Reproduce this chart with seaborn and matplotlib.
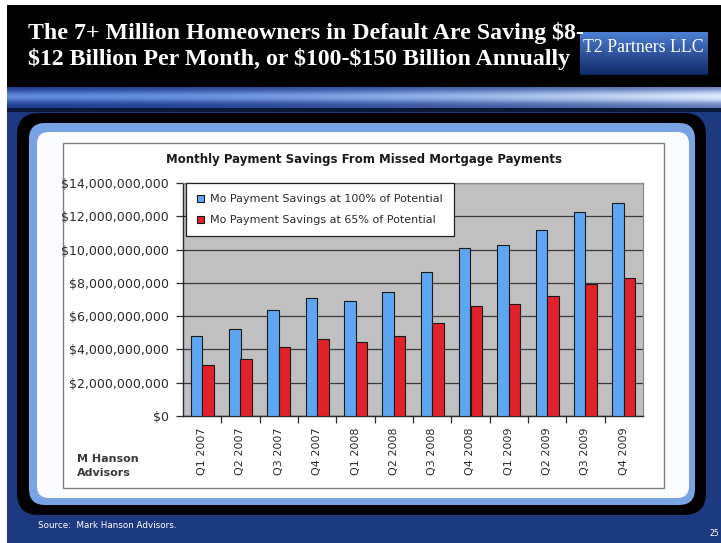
import numpy as np
import pandas as pd
import matplotlib
matplotlib.use("Agg")
import matplotlib.pyplot as plt
from matplotlib.patches import FancyBboxPatch, Rectangle
from matplotlib.ticker import FuncFormatter, FixedLocator
import seaborn as sns

# ---- data -----------------------------------------------------------------
quarters = ["Q1 2007", "Q2 2007", "Q3 2007", "Q4 2007",
            "Q1 2008", "Q2 2008", "Q3 2008", "Q4 2008",
            "Q1 2009", "Q2 2009", "Q3 2009", "Q4 2009"]
savings_100 = [4.79e9, 5.25e9, 6.35e9, 7.09e9, 6.89e9, 7.44e9,
               8.65e9, 10.10e9, 10.27e9, 11.19e9, 12.27e9, 12.77e9]
savings_65 = [3.07e9, 3.42e9, 4.12e9, 4.65e9, 4.45e9, 4.81e9,
              5.58e9, 6.60e9, 6.70e9, 7.24e9, 7.92e9, 8.28e9]
series_names = ["Mo Payment Savings at 100% of Potential",
                "Mo Payment Savings at 65% of Potential"]
y_ticks = [0, 2e9, 4e9, 6e9, 8e9, 10e9, 12e9, 14e9]

title_lines = ["The 7+ Million Homeowners in Default Are Saving $8-",
               "$12 Billion Per Month, or $100-$150 Billion Annually"]
chart_title = "Monthly Payment Savings From Missed Mortgage Payments"

df = pd.DataFrame({
    "Quarter": quarters * 2,
    "Savings": savings_100 + savings_65,
    "Series": [series_names[0]] * len(quarters) + [series_names[1]] * len(quarters),
})

# ---- figure & slide background (pixel coordinates) -------------------------
W, H = 721, 543
fig = plt.figure(figsize=(W / 100, H / 100), dpi=100)
bg = fig.add_axes([0, 0, 1, 1])
bg.axis("off")

bg.add_patch(Rectangle((0, 0), W, H, fc="white", ec="none", zorder=0))
bg.add_patch(Rectangle((7, 5), W - 7, 82, fc="black", ec="none", zorder=1))
bg.add_patch(Rectangle((7, 87), W - 7, H - 87, fc="#1d3a80", ec="none", zorder=1))

# blue sweep band under the title bar
nx, ny = 500, 40
tx = np.linspace(0, 1, nx)[None, :]
ty = np.linspace(0, 1, ny)[:, None]
bump = np.exp(-((ty - 0.45) / 0.28) ** 2)
dark = np.array([0.12, 0.23, 0.55])
mid = np.array([0.38, 0.54, 0.86])
col = dark[None, None, :] * (1 - bump[..., None]) + mid[None, None, :] * bump[..., None]
glow = (tx ** 1.8)[..., None] * (0.35 + 0.65 * bump[..., None])
band = col * (1 - glow) + np.array([0.88, 0.92, 0.98])[None, None, :] * glow
band = np.broadcast_to(band, (ny, nx, 3))
bg.imshow(band, extent=[7, W, 108, 87], origin="upper", aspect="auto", zorder=2)
bg.add_patch(Rectangle((7, 108), W - 7, 4, fc="#0b1838", ec="none", zorder=2))

# company tag box
tag = np.linspace(0, 1, 60)[:, None]
tag_col = (np.array([0.30, 0.50, 0.83])[None, None, :] * (1 - tag[..., None])
           + np.array([0.07, 0.16, 0.40])[None, None, :] * tag[..., None])
tag_col = np.broadcast_to(tag_col, (60, 10, 3))
bg.imshow(tag_col, extent=[580, 708, 75, 32], origin="upper", aspect="auto", zorder=4)
bg.text(643, 47, "T2 Partners LLC", color="white", fontsize=12.8,
        family="Liberation Serif", ha="center", va="center", zorder=6)

# title
for i, line in enumerate(title_lines):
    bg.text(28, 33 + 26 * i, line, color="white", fontsize=17.2, fontweight="bold",
            family="Liberation Serif", va="center", ha="left", zorder=5)

# framed panel holding the chart
bg.add_patch(FancyBboxPatch((17, 113), 689, 402, boxstyle="round,pad=0,rounding_size=22",
                            fc="black", ec="none", zorder=3))
bg.add_patch(FancyBboxPatch((29, 123), 666, 382, boxstyle="round,pad=0,rounding_size=16",
                            fc="#79a4e4", ec="none", zorder=3))
bg.add_patch(FancyBboxPatch((37, 132), 652, 366, boxstyle="round,pad=0,rounding_size=12",
                            fc="#fbfcfe", ec="none", zorder=3))
bg.add_patch(Rectangle((63, 143), 601, 345, fc="white", ec="#808080", lw=1.0, zorder=4))

bg.text(364, 160, chart_title, fontsize=8.5, fontweight="bold", color="#1a1a1a",
        family="DejaVu Sans", ha="center", va="center", zorder=6)
bg.text(77, 459, "M Hanson", fontsize=8, fontweight="bold", color="#3a3a3a",
        family="DejaVu Sans", ha="left", va="center", zorder=6)
bg.text(77, 473, "Advisors", fontsize=8, fontweight="bold", color="#3a3a3a",
        family="DejaVu Sans", ha="left", va="center", zorder=6)

bg.text(38, 526, "Source:  Mark Hanson Advisors.", fontsize=6.3, color="white",
        family="DejaVu Sans", ha="left", va="center", zorder=6)
bg.text(710, 533, "25", fontsize=5.5, color="white",
        family="DejaVu Sans", ha="left", va="center", zorder=6)

bg.set_xlim(0, W)
bg.set_ylim(H, 0)

# ---- bar chart --------------------------------------------------------------
x0, x1, y0, y1 = 183, 643, 183, 416
ax = fig.add_axes([x0 / W, (H - y1) / H, (x1 - x0) / W, (y1 - y0) / H])
ax.set_facecolor("#c0c0c0")

sns.barplot(data=df, x="Quarter", y="Savings", hue="Series", order=quarters,
            hue_order=series_names, palette=["#5ea6f2", "#e2222b"],
            width=0.6, gap=0, edgecolor="#1a1a1a", linewidth=0.8,
            errorbar=None, saturation=1, ax=ax, zorder=3)

ax.set_xlim(-0.5, len(quarters) - 0.5)
ax.set_ylim(0, 14e9)
ax.yaxis.set_major_locator(FixedLocator(y_ticks))
ax.yaxis.set_major_formatter(FuncFormatter(lambda v, p: "$0" if v == 0 else f"${v:,.0f}"))
ax.grid(axis="y", color="#3a3a3a", lw=0.9, zorder=1)
ax.set_axisbelow(True)
ax.set_xlabel("")
ax.set_ylabel("")

ax.tick_params(axis="y", direction="out", length=5, width=0.9, pad=5,
               labelsize=9, labelcolor="#2a2a2a", color="#2a2a2a")
for lab in ax.get_yticklabels():
    lab.set_family("DejaVu Sans")

ax.tick_params(axis="x", which="major", length=0, pad=8, labelsize=8,
               labelcolor="#2a2a2a", labelrotation=90)
ax.xaxis.set_minor_locator(FixedLocator(np.arange(0.5, len(quarters) - 0.5, 1.0)))
ax.tick_params(axis="x", which="minor", direction="out", length=5, width=0.9, color="#2a2a2a")
for lab in ax.get_xticklabels():
    lab.set_family("DejaVu Sans")
    lab.set_va("top")

for side in ["left", "bottom"]:
    ax.spines[side].set_color("#2a2a2a")
    ax.spines[side].set_linewidth(1.0)
for side in ["top", "right"]:
    ax.spines[side].set_color("#8a8a8a")
    ax.spines[side].set_linewidth(0.9)

leg = ax.legend(loc="upper left", bbox_to_anchor=(0.0065, 1.0), borderaxespad=0,
                frameon=True, fancybox=False, edgecolor="#202020", facecolor="white",
                framealpha=1, prop={"family": "DejaVu Sans", "size": 8},
                handlelength=0.6, handleheight=0.6, handletextpad=0.6,
                borderpad=1.0, labelspacing=1.0)
leg.get_frame().set_linewidth(0.9)
for txt in leg.get_texts():
    txt.set_color("#2a2a2a")

fig.savefig("out.png", dpi=100)
